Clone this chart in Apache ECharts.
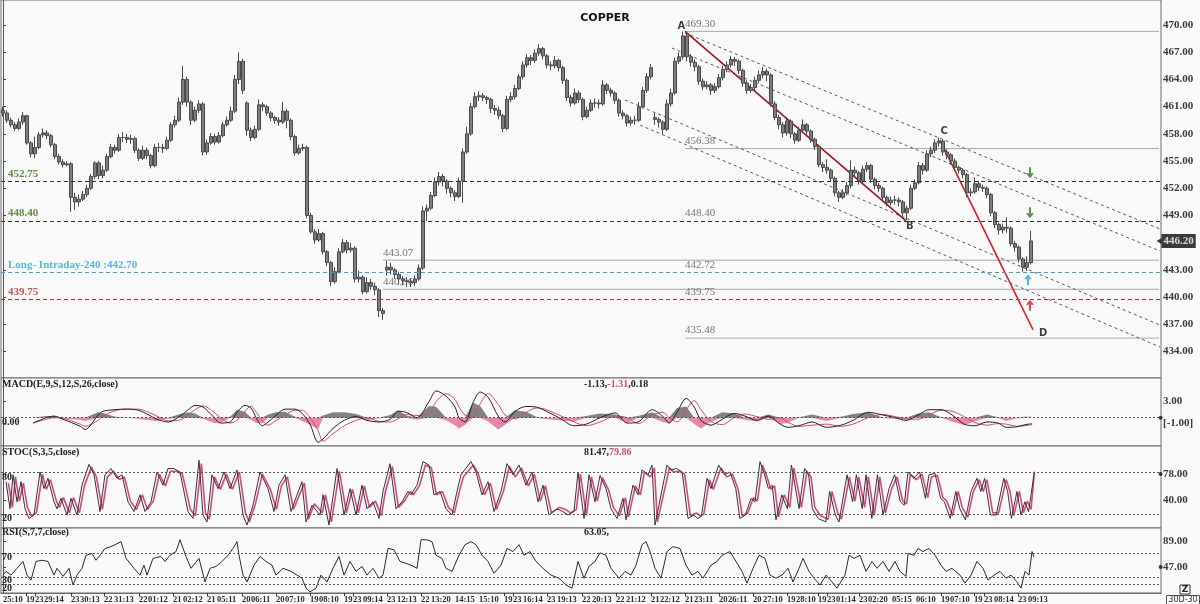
<!DOCTYPE html>
<html><head><meta charset="utf-8">
<script src="https://cdn.jsdelivr.net/npm/echarts@6/dist/echarts.min.js"></script>
<style>html,body{margin:0;padding:0;background:#fafafa;}#c{width:1200px;height:604px;}</style>
</head><body><div id="c"></div>
<script>
// ---------------- DATA ----------------
const N_CAT = 290; // 30-minute slots on the time axis (incl. empty future slots)

// price bars [open, close, low, high]
const ohlc = [
[460.6,460.3,459.9,461.0],[460.3,459.5,459.2,460.6],[459.5,459.0,458.7,459.8],[459.0,458.6,458.3,459.3],[458.6,459.3,458.4,459.7],
[459.3,460.0,459.0,460.4],[460.0,457.0,456.8,460.1],[457.0,455.8,455.4,457.2],[455.8,456.5,455.3,457.7],[456.5,457.9,456.3,458.2],
[457.9,458.1,457.6,458.6],[458.1,457.8,457.4,458.4],[457.8,456.8,456.5,458.0],[456.8,455.5,455.2,457.0],[455.5,454.9,454.6,455.8],
[454.9,454.6,454.3,455.2],[454.6,454.7,454.4,455.0],[454.7,451.0,449.4,454.9],[451.0,450.5,449.6,451.5],[450.5,450.8,450.0,451.3],
[450.8,451.3,450.6,451.7],[451.3,452.0,451.0,452.4],[452.0,453.3,451.8,453.6],[453.3,454.8,453.0,455.0],[454.8,453.4,453.0,455.0],
[453.4,454.0,453.1,454.5],[454.0,455.5,453.8,455.8],[455.5,456.5,455.3,456.9],[456.5,456.2,455.8,456.8],[456.2,457.6,456.0,458.0],
[457.6,457.6,457.1,458.2],[457.6,457.4,457.0,458.0],[457.4,457.5,456.9,457.9],[457.5,456.2,455.9,457.7],[456.2,455.3,455.0,456.4],
[455.3,456.2,455.1,456.7],[456.2,455.6,455.2,456.5],[455.6,454.5,454.2,455.8],[454.5,456.5,454.3,456.9],[456.5,456.5,456.0,457.0],
[456.5,456.4,455.9,456.9],[456.4,457.3,456.2,457.7],[457.3,459.0,457.1,459.3],[459.0,459.5,458.7,460.0],[459.5,461.5,459.3,462.0],
[461.5,464.0,461.2,465.5],[464.0,461.5,461.0,464.3],[461.5,459.5,459.0,461.7],[459.5,460.6,459.3,461.0],[460.6,461.3,460.3,461.7],
[461.3,456.0,455.6,461.5],[456.0,457.0,455.7,457.4],[457.0,457.7,456.8,458.1],[457.7,457.1,456.8,458.0],[457.1,457.8,456.9,458.2],
[457.8,459.0,457.6,459.3],[459.0,459.5,458.8,459.9],[459.5,460.5,459.3,461.0],[460.5,464.0,460.3,464.5],[464.0,466.0,463.5,467.0],
[466.0,462.8,462.4,466.3],[461.4,458.4,457.8,461.6],[458.4,457.6,457.2,458.7],[457.6,458.5,457.4,458.9],[458.5,461.2,458.3,461.8],
[461.2,461.0,460.5,461.5],[461.0,460.3,460.0,461.2],[460.3,459.8,459.4,460.5],[459.8,459.5,459.1,460.0],[459.5,459.3,458.9,459.8],
[459.3,460.5,459.1,461.5],[460.5,459.5,458.6,460.7],[459.5,457.7,457.3,459.7],[457.7,455.9,455.6,457.9],[455.9,456.4,455.7,456.8],
[456.4,456.5,456.1,456.9],[456.5,449.0,448.7,456.7],[449.0,447.2,447.0,449.3],[447.2,446.3,445.9,447.5],[446.3,447.0,446.1,447.5],
[447.0,445.0,444.7,447.2],[445.0,443.8,443.4,445.2],[443.8,441.7,441.2,444.0],[441.7,442.8,441.5,443.3],[442.8,445.0,442.6,445.4],
[445.0,446.0,444.8,446.4],[446.0,445.2,444.8,446.3],[445.2,445.4,444.9,446.0],[445.4,442.0,441.6,445.6],[442.0,442.2,441.6,442.9],
[442.2,440.6,440.3,442.4],[440.6,441.6,440.4,442.2],[441.6,441.2,440.8,442.0],[441.2,440.8,440.2,441.6],[440.8,438.5,437.8,441.0],
[438.5,438.2,437.5,438.8],[443.0,443.3,442.4,444.0],[443.3,443.0,442.5,443.8],[443.0,442.5,442.0,443.2],[442.5,442.0,441.4,442.8],
[442.0,441.8,441.3,442.3],[441.8,441.7,441.1,442.2],[441.7,441.6,441.1,442.1],[441.6,442.0,441.2,442.4],[442.0,443.2,441.8,443.6],
[443.2,449.5,443.0,450.0],[449.5,449.8,448.4,450.2],[449.8,451.2,449.6,451.6],[451.2,452.7,451.0,453.2],[452.7,453.3,452.3,453.8],
[453.3,452.8,452.2,453.6],[452.8,452.0,451.4,453.0],[452.0,451.5,451.0,452.2],[451.5,451.1,450.6,451.8],[451.1,452.8,450.9,453.2],
[452.8,456.0,450.4,456.4],[456.0,458.0,455.8,458.8],[458.0,461.0,457.8,461.4],[461.0,462.1,460.8,462.6],[462.1,462.2,461.6,462.7],
[462.2,462.0,461.6,462.5],[462.0,461.8,461.3,462.2],[461.8,460.8,460.3,462.0],[460.8,460.6,460.1,461.2],[460.6,460.0,459.6,461.0],
[460.0,458.6,458.2,460.2],[458.6,461.8,458.4,462.2],[461.8,462.1,461.5,462.6],[462.1,463.0,461.8,463.4],[463.0,464.3,462.8,464.6],
[464.3,465.6,464.0,466.0],[465.6,466.4,465.3,466.8],[466.4,466.1,465.6,466.7],[466.1,466.9,465.8,467.3],[466.9,467.4,466.6,467.9],
[467.4,466.6,466.2,467.6],[466.6,465.6,465.2,466.8],[465.6,465.5,465.0,466.0],[465.5,466.1,465.2,466.6],[466.1,465.3,464.9,466.3],
[465.3,463.9,463.5,465.5],[463.9,462.0,461.6,464.1],[462.0,461.4,461.0,462.3],[461.4,462.5,461.2,463.0],[462.5,461.8,461.4,462.8],
[461.8,459.9,459.5,462.0],[459.9,460.6,459.7,461.0],[460.6,461.4,460.4,461.8],[461.4,461.4,460.9,461.9],[461.4,461.3,460.8,461.8],
[461.3,463.4,461.1,463.9],[463.4,462.8,462.4,463.6],[462.8,462.5,462.1,463.1],[462.5,461.7,461.3,462.7],[461.7,460.3,459.9,461.9],
[460.3,460.0,459.6,460.6],[460.0,459.2,458.8,460.2],[459.2,459.5,458.9,459.9],[459.5,459.5,459.0,460.0],[459.5,461.0,459.3,461.5],
[461.0,462.8,460.8,463.2],[462.8,464.3,462.5,464.7],[464.3,465.3,464.0,465.7],[459.8,459.6,459.0,460.3],[459.6,459.3,458.7,459.8],
[459.3,458.5,457.9,459.5],[458.5,461.3,458.3,461.8],[461.3,462.5,461.0,463.0],[462.5,466.0,462.3,466.4],[466.0,466.5,465.7,467.0],
[466.5,468.8,466.2,469.3],[468.8,466.5,466.0,469.3],[466.5,465.9,465.4,466.8],[465.9,465.4,464.9,466.2],[465.4,463.8,463.4,465.6],
[463.8,463.2,462.8,464.1],[463.2,463.4,462.9,463.8],[463.4,462.8,462.3,463.6],[462.8,463.2,462.5,463.6],[463.2,464.2,463.0,464.6],
[464.2,465.1,463.9,465.5],[465.1,465.6,464.8,466.0],[465.6,466.2,465.3,466.6],[466.2,466.0,465.5,466.5],[466.0,465.0,464.6,466.2],
[465.0,463.6,463.2,465.2],[463.6,462.8,462.4,463.9],[462.8,463.1,462.5,463.5],[463.1,463.9,462.8,464.3],[463.9,464.5,463.6,465.0],
[464.5,464.9,464.1,465.4],[464.9,464.5,463.8,465.2],[464.5,461.3,461.0,464.7],[461.3,459.8,459.5,461.6],[459.8,459.0,458.5,460.1],
[459.0,458.1,457.6,459.3],[458.1,459.4,457.8,459.8],[459.4,458.0,457.5,459.6],[458.0,457.3,456.9,458.2],[457.3,458.4,457.1,458.8],
[458.4,459.0,458.2,459.6],[459.0,458.3,457.9,459.2],[458.3,457.4,457.0,458.5],[457.4,456.6,456.2,457.6],[456.6,454.6,454.3,456.8],
[454.6,454.3,453.8,454.9],[454.3,454.0,453.6,455.2],[454.0,453.1,452.7,454.2],[453.1,451.5,451.1,453.3],[451.5,451.0,450.5,451.7],
[451.0,451.5,450.8,451.9],[451.5,452.3,451.2,452.7],[452.3,454.0,452.0,455.1],[454.0,453.7,453.2,454.4],[453.7,452.8,452.4,453.9],
[452.8,454.1,452.6,454.5],[454.1,454.5,453.8,454.9],[454.5,453.0,452.6,454.7],[453.0,452.3,451.9,453.2],[452.3,452.0,451.6,452.6],
[452.0,451.0,450.6,452.2],[451.0,450.4,450.0,451.2],[450.4,450.7,450.1,451.1],[450.7,450.7,450.2,451.2],[450.7,450.5,450.0,451.0],
[450.5,449.3,448.9,450.7],[449.3,449.8,448.5,450.1],[449.8,452.0,449.6,452.4],[452.0,452.6,451.8,453.0],[452.6,454.5,452.4,454.9],
[454.5,454.0,453.5,454.8],[454.0,455.8,453.8,456.2],[455.8,456.2,455.4,456.6],[456.2,457.0,455.9,457.4],[457.0,457.2,456.6,457.6],
[457.2,456.0,455.6,457.4],[456.0,455.7,455.2,456.3],[455.7,455.0,454.6,455.9],[455.0,454.3,453.9,455.3],[454.3,454.0,453.6,454.5],
[454.0,453.5,453.1,454.2],[453.5,451.5,451.0,453.7],[451.5,451.6,451.1,452.0],[451.6,452.5,451.4,453.2],[452.5,452.1,451.7,452.8],
[452.1,452.0,451.6,452.4],[452.0,451.3,450.9,452.2],[451.3,449.3,448.9,451.5],[449.3,448.0,447.6,449.5],[448.0,447.4,446.9,448.2],
[447.4,447.7,447.0,448.1],[447.7,447.6,447.1,448.8],[447.6,445.9,445.6,447.8],[445.9,445.5,445.0,446.2],[445.5,444.2,443.8,445.7],
[444.2,443.3,442.8,444.4],[443.3,443.8,442.9,444.5],[443.8,446.2,443.6,447.3]
];
const lastPrice = 446.20;

// horizontal trade levels
const levelR1 = 452.75, levelR2 = 448.40, longIntraday = 442.70, stopLevel = 439.75;
// swing levels [start bar, price]
const swingLevels = [[170.5,469.30],[170.5,456.38],[170.5,435.48],[95,444.07],[95,440.86]];
// level captions [bar, price, text]
const levelCaptions = [[170.5,469.30,'469.30'],[170.5,456.38,'456.38'],[170.5,448.40,'448.40'],[170.5,442.72,'442.72'],
  [170.5,439.75,'439.75'],[170.5,435.48,'435.48'],[95,444.07,'443.07'],[95,440.86,'440.86']];
// channel lines [bar1, price1, bar2, price2]
const channelLines = [[170.5,469.12,289.25,447.51],[167.25,467.46,289.25,445.08],[155.5,461.73,289.25,436.92],[159.25,458.97,289.25,434.5]];
// wave legs
const waveAB = [[170.5,469.3],[225.75,448.4]];
const waveCD = [[234.25,457.3],[257.5,436.4]];
const waveLetters = [[168.6,469.89,'A'],[225.75,447.84,'B'],[234.4,458.31,'C'],[259,436.04,'D']];
// signal arrows [bar, price]
const arrowsDownGreen = [[256.75,453.7],[256.75,449.3]];
const arrowUpBlue = [[256.25,441.9]];
const arrowUpRed = [[256.75,439.1]];

// MACD [bar, macd, signal]
const macdRows = [
[7.5,-1.0,-1.0],[10.8,0.0,-0.3],[12.8,0.3,0.0],[15,-0.3,-0.1],[19.3,-1.6,-1.2],[20.5,-2.2,-1.6],[23.8,0.5,-0.5],[25,1.2,0.3],
[28,1.5,1.3],[30.8,1.6,1.6],[33.8,1.4,1.6],[36.5,0.5,1.0],[38.5,-0.3,0.3],[41.3,-0.8,-0.6],[44.3,0.3,-0.4],[46.3,1.5,0.5],
[48,2.3,1.5],[50,2.0,2.2],[52.8,0.0,1.0],[54.3,-1.0,0.0],[56.8,-0.8,-1.0],[58.5,1.0,-0.5],[60.5,2.3,1.2],[62,1.8,2.2],
[63.3,0.0,1.0],[64.8,-1.5,-0.5],[66.3,-0.8,-1.4],[68.3,0.5,-0.5],[70.5,1.6,0.5],[73,1.6,1.4],[74.8,0.8,1.4],[76.8,-1.3,0.0],
[78.8,-4.6,-2.5],[80,-4.0,-4.4],[82.5,-2.0,-3.0],[85.3,-0.5,-1.5],[88.3,0.2,-0.5],[91,-0.5,0.0],[94,-0.8,-0.7],[96.8,-0.3,-0.8],
[98.8,1.2,-0.2],[100.8,1.0,0.6],[103.5,0.0,0.4],[106.5,3.0,0.8],[108.3,5.0,3.0],[110.8,4.0,4.5],[113,2.0,3.4],[114,0.0,2.0],
[115.5,-0.8,0.5],[117.5,2.8,0.0],[119.3,4.8,2.6],[121.3,3.8,4.5],[123.8,0.3,2.5],[125.5,-0.8,0.5],[128,1.2,-0.2],[130.8,2.1,1.0],
[133.3,2.0,1.8],[135,1.5,1.7],[139,0.0,0.5],[142.8,-1.5,-0.8],[145.8,-1.2,-1.5],[149.3,0.0,-0.8],[153,0.9,0.3],[156,-1.0,0.0],
[158.8,-0.8,-1.1],[162.3,1.5,0.5],[165,0.2,1.0],[166.5,-1.0,0.0],[168.5,1.0,-0.8],[170.8,3.6,1.5],[172.8,2.0,3.2],[174.5,-0.5,1.5],
[177,-1.4,-0.7],[179.8,-0.3,-1.3],[182.8,0.8,0.0],[185.5,0.3,0.7],[188.5,-0.5,0.2],[191.3,0.3,-0.3],[194.3,-1.2,0.0],[196.3,-1.8,-0.9],
[199,-1.5,-1.6],[202.3,-0.8,-1.4],[205.8,-1.8,-1.2],[209.5,-1.4,-1.6],[212.5,-0.5,-1.2],[216.3,1.0,0.0],[220,0.5,0.6],[223,0.0,0.2],
[225.8,-0.5,-0.2],[228.8,0.5,-0.3],[231.5,1.5,0.5],[234.5,1.5,1.4],[237.3,0.5,1.2],[240.3,-1.2,0.2],[243,-1.5,-0.9],[246,-0.8,-1.4],
[248.8,-1.0,-1.1],[250.8,-1.8,-1.2],[253.5,-1.7,-1.6],[255.5,-1.3,-1.5],[257.3,-1.13,-1.31]
];
// MACD histogram [bar, value]
const macdHist = [
[7.5,0],[10.8,0.3],[12.8,0.3],[15,-0.2],[19.3,-0.4],[20.5,-0.6],[23.8,1.0],[25,0.9],[28,0.2],[30.8,0.05],[33.8,-0.2],[36.5,-0.5],
[38.5,-0.6],[41.3,-0.2],[44.3,0.7],[46.3,1.0],[48,0.8],[50,-0.2],[52.8,-1.0],[54.3,-1.0],[56.8,0.2],[58.5,1.5],[60.5,1.1],[62,-0.4],
[63.3,-1.0],[64.8,-1.0],[66.3,0.6],[68.3,1.0],[70.5,1.1],[73,0.2],[74.8,-0.6],[76.8,-1.3],[78.8,-2.1],[80,0.4],[82.5,1.0],[85.3,1.0],
[88.3,0.7],[91,-0.5],[94,-0.1],[96.8,0.5],[98.8,1.4],[100.8,0.4],[103.5,-0.4],[106.5,2.2],[108.3,2.0],[110.8,-0.5],[113,-1.4],[114,-2.0],
[115.5,-1.3],[117.5,2.8],[119.3,2.2],[121.3,-0.7],[123.8,-2.2],[125.5,-1.3],[128,1.4],[130.8,1.1],[133.3,0.2],[135,-0.2],[139,-0.5],
[142.8,-0.7],[145.8,0.3],[149.3,0.8],[153,0.6],[156,-1.0],[158.8,0.3],[162.3,1.0],[165,-0.8],[166.5,-1.0],[168.5,1.8],[170.8,2.1],
[172.8,-1.2],[174.5,-2.0],[177,-0.7],[179.8,1.0],[182.8,0.8],[185.5,-0.4],[188.5,-0.7],[191.3,0.6],[194.3,-1.2],[196.3,-0.9],[199,0.1],
[202.3,0.6],[205.8,-0.6],[209.5,0.2],[212.5,0.7],[216.3,1.0],[220,-0.1],[223,-0.2],[225.8,-0.3],[228.8,0.8],[231.5,1.0],[234.5,0.1],
[237.3,-0.7],[240.3,-1.4],[243,-0.6],[246,0.6],[248.8,0.1],[250.8,-0.6],[253.5,-0.1],[255.5,0.2],[257.3,0.18]
];
// Stochastic %K and %D [bar, value]
const stochK = [
[0.75,67],[1.75,28],[2.5,77],[3.5,38],[4.5,67],[5.5,28],[6.5,14],[7.75,19],[9.25,81],[10.25,57],[11.25,72],[12.75,38],[13.5,28],[14.5,43],
[16,19],[17,43],[18.5,19],[19.75,62],[21.5,92],[22.75,77],[24.25,24],[25.5,77],[27,86],[28.5,72],[29.75,77],[31.25,38],[32.75,24],[34.25,48],
[35.5,24],[37,38],[38.5,81],[40,62],[41.25,86],[42.75,86],[44.25,81],[46.25,24],[47.5,14],[49,98],[50,19],[51,9],[52.25,77],[53.75,57],
[55.25,81],[56.75,57],[58.5,84],[60,19],[61,4.5],[62.5,33],[64.25,81],[66.25,57],[67.75,24],[69,62],[70.5,77],[72,24],[73.5,48],[74.75,67],
[75.75,9],[77.25,33],[79.25,19],[80,48],[81.5,4.5],[83.5,86],[85.25,19],[86.75,57],[88.25,19],[89.75,62],[91,28],[92.5,38],[94,14],[95,53],
[96.75,93],[98.25,28],[99.75,38],[101.25,53],[102,48],[103.5,62],[105,96],[106.5,91],[107.75,48],[109.25,53],[110.75,28],[112.25,19],
[113.5,53],[114.5,77],[117,96],[118.25,81],[119.75,48],[121.25,67],[122.75,24],[124.5,53],[126,93],[127.5,77],[129,91],[130.75,62],
[132.25,81],[133.75,38],[135,62],[136.5,19],[138.5,28],[140,24],[141.25,19],[142.75,24],[143.75,81],[145.25,14],[146.5,77],[148,38],
[149.25,76],[150.75,57],[152,28],[153.5,14],[155,43],[155.75,12],[157.5,62],[158.75,48],[159.75,84],[161.25,77],[162.25,91],[163,4.5],
[166,91],[167,84],[168.4,86],[169.8,81],[171.25,14],[172.7,19],[173.65,14],[174.6,17],[176,72],[177,57],[178.9,91],[180.35,77],[181.75,81],
[183.2,57],[184.2,14],[185.6,19],[187,43],[188,38],[189.25,96],[190.4,77],[191.35,57],[192.3,62],[193.25,12],[194.7,48],[196.1,28],
[197.1,91],[198,62],[199,28],[200.4,86],[201.4,77],[202.35,28],[203.8,14],[205.7,9],[206.65,53],[208.1,19],[209,9],[211,77],[212.4,38],
[213.35,77],[214.8,28],[215.75,77],[217.2,14],[218.6,77],[220,19],[221.5,57],[222.9,77],[224.35,38],[225.3,33],[226.25,81],[227.7,72],
[229.15,81],[230.6,43],[231.5,77],[233,79],[234.4,43],[235.35,38],[236.8,14],[238.2,53],[239.2,28],[240.6,12],[242,53],[243.5,72],
[244.45,53],[245.4,72],[246.85,19],[248.3,19],[250.2,72],[251.15,53],[252.1,14],[253.5,53],[254.5,19],[255.45,38],[256.4,24],[257.85,81.47]
];
const stochD = [
[1.35,65],[2.35,30],[3.1,74],[4.1,39],[5.1,65],[6.1,30],[7.1,18],[8.35,22],[9.85,78],[10.85,56],[11.85,70],[13.35,39],[14.1,30],[15.1,44],
[16.6,22],[17.6,44],[19.1,22],[20.35,61],[22.1,88],[23.35,74],[24.85,27],[26.1,74],[27.6,82],[29.1,70],[30.35,74],[31.85,39],[33.35,27],
[34.85,48],[36.1,27],[37.6,39],[39.1,78],[40.6,61],[41.85,82],[43.35,82],[44.85,78],[46.85,27],[48.1,18],[49.6,93],[50.6,22],[51.6,13],
[52.85,74],[54.35,56],[55.85,78],[57.35,56],[59.1,81],[60.6,22],[61.6,9],[63.1,35],[64.85,78],[66.85,56],[68.35,27],[69.6,61],[71.1,74],
[72.6,27],[74.1,48],[75.35,65],[76.35,13],[77.85,35],[79.85,22],[80.6,48],[82.1,9],[84.1,82],[85.85,22],[87.35,56],[88.85,22],[90.35,61],
[91.6,30],[93.1,39],[94.6,18],[95.6,53],[97.35,89],[98.85,30],[100.35,39],[101.85,53],[102.6,48],[104.1,61],[105.6,91],[107.1,87],
[108.35,48],[109.85,53],[111.35,30],[112.85,22],[114.1,53],[115.1,74],[117.6,91],[118.85,78],[120.35,48],[121.85,65],[123.35,27],
[125.1,53],[126.6,89],[128.1,74],[129.6,87],[131.35,61],[132.85,78],[134.35,39],[135.6,61],[137.1,22],[139.1,30],[140.6,27],[141.85,22],
[143.35,27],[144.35,78],[145.85,18],[147.1,74],[148.6,39],[149.85,73],[151.35,56],[152.6,30],[154.1,18],[155.6,44],[156.35,16],[158.1,61],
[159.35,48],[160.35,81],[161.85,74],[162.85,87],[163.6,9],[166.6,87],[167.6,81],[169,82],[170.4,78],[171.85,18],[173.3,22],[174.25,18],
[175.2,20],[176.6,70],[177.6,56],[179.5,87],[180.95,74],[182.35,78],[183.8,56],[184.8,18],[186.2,22],[187.6,44],[188.6,39],[189.85,91],
[191,74],[191.95,56],[192.9,61],[193.85,16],[195.3,48],[196.7,30],[197.7,87],[198.6,61],[199.6,30],[201,82],[202,74],[202.95,30],
[204.4,18],[206.3,13],[207.25,53],[208.7,22],[209.6,13],[211.6,74],[213,39],[213.95,74],[215.4,30],[216.35,74],[217.8,18],[219.2,74],
[220.6,22],[222.1,56],[223.5,74],[224.95,39],[225.9,35],[226.85,78],[228.3,70],[229.75,78],[231.2,44],[232.1,74],[233.6,76],[235,44],
[235.95,39],[237.4,18],[238.8,53],[239.8,30],[241.2,16],[242.6,53],[244.1,70],[245.05,53],[246,70],[247.45,22],[248.9,22],[250.8,70],
[251.75,53],[252.7,18],[254.1,53],[255.1,22],[256.05,39],[257,27],[257.85,79.86]
];
// RSI [bar, value]
const rsiLine = [
[0,34],[0.75,40],[2,34],[3.5,45],[5,56],[6,34],[7,26],[8.25,56],[9.75,58],[11.25,56],[12.75,34],[13.5,45],[15,32],[16.5,45],[17.5,18],
[18.5,34],[19.75,45],[20.75,66],[22.25,69],[23.25,58],[24.25,66],[25.5,77],[27,80],[28,83],[29.5,88],[30.75,61],[32.75,45],[34.25,34],
[35.25,50],[36,34],[37.5,61],[39.5,64],[40.5,56],[41.75,66],[43.25,72],[44.25,91],[45.75,64],[47,45],[49,61],[50.5,23],[51.75,45],
[53.25,48],[54.75,56],[56.25,66],[57.5,77],[58.5,88],[59,66],[60,34],[61,23],[62.75,50],[64.25,64],[65.75,56],[67.25,50],[68.25,34],
[70,45],[72,40],[73.5,34],[74.75,29],[75.75,13],[76.75,7],[78.25,13],[79.5,34],[81,23],[82.5,45],[84,64],[85.25,34],[86.75,56],[88.25,40],
[89.75,48],[91,34],[92.5,45],[94,29],[95,34],[96.25,77],[97.75,75],[99.25,56],[100.75,53],[102,50],[103.5,45],[104.5,91],[106,91],
[107.25,88],[108.25,66],[109.75,61],[110.75,45],[112.25,40],[114,66],[115.5,83],[117,88],[118.25,83],[119.75,66],[121.25,56],[122.75,37],
[124.5,50],[126,77],[127.5,72],[129,83],[130.25,66],[131.75,72],[133.25,56],[135,45],[137,34],[139,29],[140.75,18],[142.25,13],[143.75,56],
[145.25,29],[146.5,48],[148,56],[149.25,70],[150.75,66],[152,45],[154,29],[155.5,40],[157,34],[158.25,50],[159.75,83],[160.75,88],
[161.75,72],[163,45],[164.5,29],[166,72],[167.5,80],[169.25,77],[170.75,50],[172.25,34],[173.75,40],[175,29],[177,50],[178.5,56],
[179.75,66],[181.75,72],[183.25,56],[184.75,40],[186,21],[187.5,45],[189,66],[190.5,61],[191.75,34],[193.25,29],[194.75,34],[196.25,45],
[197.5,23],[199,45],[200,61],[201.5,40],[202.75,29],[204.25,18],[205.75,34],[207.25,23],[208.5,13],[210.5,34],[211.5,66],[212.75,61],
[214.25,66],[215.75,40],[217.25,56],[218.5,45],[220,56],[221.5,40],[223,56],[224.25,40],[225.75,32],[226.25,69],[227.75,66],[228.75,77],
[230,72],[231.5,77],[233,66],[234.5,50],[235.75,40],[237.25,45],[239.25,34],[240.5,21],[242,34],[243.5,56],[245,45],[246.25,26],
[247.75,34],[249.25,40],[250.75,29],[252,34],[253.5,23],[254.5,13],[255.5,40],[256.5,34],[257.25,72],[257.75,63.05]
];
// time-axis labels [slot, text]
const timeLabels = [[0,'25:10'],[5.75,'19'],[8,'23'],[10.25,'29:14'],[17,'23'],[19.25,'30:13'],[25.25,'22'],[27.75,'31:13'],
[34,'22'],[36.25,'01:12'],[42.5,'21'],[45,'02:12'],[51,'21'],[53.5,'05:11'],[59.75,'20'],[62,'06:11'],[68.25,'20'],[70.5,'07:10'],
[76.75,'19'],[79,'08:10'],[85.25,'19'],[87.5,'23'],[90,'09:14'],[96,'23'],[98.5,'12:13'],[104.5,'22'],[107,'13:20'],[113,'14:15'],
[119,'15:10'],[125.25,'19'],[127.5,'23'],[130,'16:14'],[136,'23'],[138.5,'19:13'],[144.75,'22'],[147.25,'20:13'],[153.25,'22'],
[155.75,'21:12'],[162,'21'],[164.25,'22:12'],[170.5,'21'],[172.75,'23:11'],[179,'20'],[181.25,'26:11'],[187.5,'20'],[190,'27:10'],
[196,'19'],[198.25,'28:10'],[203.75,'19'],[206,'23'],[208.25,'01:14'],[214,'23'],[216.25,'02:20'],[222.25,'05:15'],[228.25,'06:10'],
[234.5,'19'],[236.75,'07:10'],[242.75,'19'],[245.25,'23'],[247.75,'08:14'],[253.75,'23'],[256.25,'09:13']];
const priceTicks = [434,437,440,443,449,452,455,458,461,464,467,470];
const macdTicks = [-1,3], stochTicks = [40,78], rsiTicks = [47,89];
const stochBands = [80,20], rsiBands = [70,30,20];
const macdValues = ['-1.13','-1.31','0.18'], stochValues = ['81.47','79.86'], rsiValues = ['63.05'];

// ---------------- CHART ----------------
const SERIF = "'Liberation Serif','DejaVu Serif',serif";
const chart = echarts.init(document.getElementById('c'), null, {renderer:'canvas'});
const cats = Array.from({length:N_CAT}, (_, i) => String(i));
const labelSlots = timeLabels.map(l => l[0]);
const tickSlots = timeLabels.filter(l => l[1].length === 2).map(l => l[0]);
const labelFor = v => { const f = timeLabels.find(l => Math.abs(l[0] - v) < 0.01); return f ? f[1] : ''; };
const PINK = '#d9467c', GREEN = '#3b6e1c', BLUE = '#27a6dc', RED = '#c8282e';

const GRIDS = [
  {left:1, top:0, width:1160, height:378},
  {left:1, top:378, width:1160, height:68},
  {left:1, top:446, width:1160, height:82},
  {left:1, top:528, width:1160, height:65}
].map(g => Object.assign(g, {show:true, backgroundColor:'#f9f9f9', borderColor:'#6a6a6a', borderWidth:1}));

const hiddenValX = gi => ({gridIndex:gi, type:'value', min:-0.5, max:N_CAT-0.5, show:false});
const yAx = (gi, min, max, ticks, fmt) => ({
  gridIndex:gi, type:'value', position:'right', min, max, scale:true,
  splitLine:{show:false},
  axisLine:{show:true, lineStyle:{color:'#555'}},
  axisTick:{show:true, length:3, customValues:ticks, lineStyle:{color:'#444'}},
  axisLabel:{show:true, customValues:ticks, margin:2, formatter:fmt || (v => v.toFixed(2)),
    fontFamily:SERIF, fontSize:11, fontWeight:'bold', color:'#3a3a3a'}
});

const seg = (pts, color, width, type, xi, yi) => ({
  type:'line', xAxisIndex:xi, yAxisIndex:yi, data:pts, symbol:'none', silent:true, z:3,
  lineStyle:{color, width, type}, animation:false
});

const series = [];
// price bars
series.push({
  type:'candlestick', xAxisIndex:0, yAxisIndex:0, data:ohlc, barWidth:3, z:4,
  itemStyle:{color:'#7c7c7c', color0:'#7c7c7c', borderColor:'#4a4a4a', borderColor0:'#4a4a4a', borderWidth:1},
  markLine:{
    silent:true, symbol:['none','none'], animation:false,
    data:[
      {yAxis:levelR1, lineStyle:{color:'#333', type:[4,3], width:1}, label:{show:false}},
      {yAxis:levelR2, lineStyle:{color:'#333', type:[4,3], width:1}, label:{show:false}},
      {yAxis:longIntraday, lineStyle:{color:BLUE, type:[4,3], width:1}, label:{show:false}},
      {yAxis:stopLevel, lineStyle:{color:RED, type:[4,3], width:1}, label:{show:false}}
    ]
  }
});
// last price badge on the price axis
series.push({type:'scatter', xAxisIndex:1, yAxisIndex:0, data:[[N_CAT-0.5, lastPrice]], clip:false, silent:true, z:8,
  symbol:'path://M0,4 L6,0 L6,8 Z', symbolSize:[5,6], symbolOffset:[-2,0], itemStyle:{color:'#0a0a0a'},
  label:{show:true, position:'right', distance:0, formatter:lastPrice.toFixed(2), backgroundColor:'#0a0a0a', color:'#fff',
    padding:[2,2,1,2], fontFamily:SERIF, fontSize:11, fontWeight:'bold'}});
// swing level lines
swingLevels.forEach(l => series.push(seg([[l[0], l[1]], [N_CAT-1, l[1]]], '#a9a9a9', 1, 'solid', 1, 0)));
// channel lines
channelLines.forEach(c => series.push(seg([[c[0], c[1]], [c[2], c[3]]], '#5a5a5a', 1, [3,3], 1, 0)));
// wave legs
series.push(seg(waveAB, '#a51515', 1.6, 'solid', 1, 0));
series.push(seg(waveCD, '#e01818', 1.6, 'solid', 1, 0));
// captions
const textScatter = (items, color, offset, extra) => ({
  type:'scatter', xAxisIndex:1, yAxisIndex:0, symbolSize:0, silent:true, z:6,
  data:items.map(it => ({value:[it[0], it[1]], label:{formatter:it[2]}})),
  label:Object.assign({show:true, position:[0,0], align:'left', verticalAlign:'middle', offset,
    fontFamily:SERIF, fontSize:11, color}, extra || {})
});
series.push(textScatter(levelCaptions, '#555', [0,-7.5]));
series.push(textScatter([[1.25, levelR1, levelR1.toFixed(2)], [1.25, levelR2, levelR2.toFixed(2)]], GREEN, [0,-7.5], {fontWeight:'bold'}));
series.push(textScatter([[1.25, longIntraday, 'Long- Intraday-240 :' + longIntraday.toFixed(2)]], BLUE, [0,-7.5], {fontWeight:'bold'}));
series.push(textScatter([[1.25, stopLevel, stopLevel.toFixed(2)]], RED, [0,-7.5], {fontWeight:'bold'}));
series.push(textScatter(waveLetters, '#111', [0,0], {fontWeight:'bold', fontFamily:"'DejaVu Sans',sans-serif", fontSize:10}));
// arrows
const DOWN = 'path://M3,0 L5,0 L5,6 L8,6 L4,11 L0,6 L3,6 Z';
const UP = 'path://M4,0 L8,5 L5,5 L5,11 L3,11 L3,5 L0,5 Z';
const arrow = (pts, sym, color) => ({type:'scatter', xAxisIndex:1, yAxisIndex:0, data:pts, symbol:sym, symbolSize:[8,11],
  itemStyle:{color}, silent:true, z:6});
series.push(arrow(arrowsDownGreen, DOWN, '#2e7d1e'));
series.push(arrow(arrowUpBlue, UP, '#2aa7e6'));
series.push(arrow(arrowUpRed, UP, '#e01c1c'));

// MACD histogram: shaded humps, gray above and pink below the zero line
const histArea = (keep, color) => ({type:'line', xAxisIndex:2, yAxisIndex:1, symbol:'none', silent:true, z:2,
  data:macdHist.map(h => [h[0], keep(h[1]) ? h[1] : 0]),
  lineStyle:{width:0}, areaStyle:{color, opacity:0.9, origin:0}});
series.push(histArea(v => v >= 0, '#747474'));
series.push(histArea(v => v < 0, '#e8779f'));
series.push({type:'line', xAxisIndex:2, yAxisIndex:1, data:macdRows.map(r => [r[0], r[2]]), symbol:'none', smooth:0.3,
  lineStyle:{color:PINK, width:1}, silent:true, z:3,
  markLine:{silent:true, symbol:['none','none'], data:[{yAxis:0}], label:{show:false}, lineStyle:{color:'#555', type:[2,2], width:1}}});
series.push({type:'line', xAxisIndex:2, yAxisIndex:1, data:macdRows.map(r => [r[0], r[1]]), symbol:'none', smooth:0.3,
  lineStyle:{color:'#222', width:1}, silent:true, z:4});
// Stochastic
series.push({type:'line', xAxisIndex:3, yAxisIndex:2, data:stochD, symbol:'none', lineStyle:{color:PINK, width:1.6}, silent:true,
  markLine:{silent:true, symbol:['none','none'], data:stochBands.map(v => ({yAxis:v})), label:{show:false}, lineStyle:{color:'#555', type:[2,2], width:1}}});
series.push({type:'line', xAxisIndex:3, yAxisIndex:2, data:stochK, symbol:'none', lineStyle:{color:'#333', width:1}, silent:true});
// RSI
series.push({type:'line', xAxisIndex:4, yAxisIndex:3, data:rsiLine, symbol:'none', lineStyle:{color:'#2a2a2a', width:1}, silent:true,
  markLine:{silent:true, symbol:['none','none'], data:rsiBands.map(v => ({yAxis:v})), label:{show:false}, lineStyle:{color:'#555', type:[2,2], width:1}}});
// axis markers
const dot = (xi, yi, v) => ({type:'scatter', xAxisIndex:xi, yAxisIndex:yi, data:[[N_CAT-0.6, v]], symbolSize:4, clip:false,
  itemStyle:{color:'#111'}, silent:true, z:7});
series.push(dot(2,1,0), dot(3,2,78), dot(4,3,47));

const txt = (x, y, text, color, size, weight, family, align) => ({type:'text', x, y, silent:true, z:100,
  style:{text, fill:color || '#222', font:(weight || 'bold') + ' ' + (size || 10) + 'px ' + (family || SERIF),
    align:align || 'left', verticalAlign:'middle'}});

const option = {
  animation:false,
  backgroundColor:'#fafafa',
  grid:GRIDS,
  xAxis:[
    {gridIndex:0, type:'category', data:cats, boundaryGap:true, show:false},
    hiddenValX(0), hiddenValX(1), hiddenValX(2),
    {gridIndex:3, type:'value', min:-0.5, max:N_CAT-0.5, position:'bottom',
      axisLine:{show:true, lineStyle:{color:'#6a6a6a'}},
      axisTick:{show:true, customValues:tickSlots, length:3, lineStyle:{color:'#333'}},
      axisLabel:{show:true, customValues:labelSlots, formatter:v => labelFor(v), align:'left',
        margin:2, fontFamily:SERIF, fontSize:8.5, fontWeight:'bold', color:'#2a2a2a', hideOverlap:false,
        showMinLabel:true, showMaxLabel:true},
      splitLine:{show:false}}
  ],
  yAxis:[
    yAx(0, 431.08, 472.76, priceTicks),
    yAx(1, -5.29, 7.42, macdTicks, v => v === -1 ? '[-1.00]' : v.toFixed(2)),
    yAx(2, 0.24, 118.5, stochTicks),
    yAx(3, 5.16, 110, rsiTicks)
  ],
  series,
  graphic:[
    txt(605, 18, 'COPPER', '#111', 11, 'bold', "'DejaVu Sans',sans-serif", 'center'),
    txt(2, 384, 'MACD(E,9,S,12,S,26,close)'),
    txt(2, 452, 'STOC(S,3,5,close)'),
    txt(2, 532, 'RSI(S,7,7,close)'),
    txt(2, 422, '0.00'),
    txt(2, 477, '80'), txt(2, 518, '20'),
    txt(2, 557, '70'), txt(2, 580, '30'), txt(2, 588, '20'),
    {type:'text', x:584, y:384, silent:true, z:100, style:{text:'{a|' + macdValues[0] + ',}{b|' + macdValues[1] + '}{a|,' + macdValues[2] + '}',
      verticalAlign:'middle', rich:{a:{fill:'#222', font:'bold 10px ' + SERIF}, b:{fill:PINK, font:'bold 10px ' + SERIF}}}},
    {type:'text', x:584, y:452, silent:true, z:100, style:{text:'{a|' + stochValues[0] + ',}{b|' + stochValues[1] + '}',
      verticalAlign:'middle', rich:{a:{fill:'#222', font:'bold 10px ' + SERIF}, b:{fill:PINK, font:'bold 10px ' + SERIF}}}},
    txt(584, 532, rsiValues[0] + ','),
    {type:'rect', shape:{x:1180, y:585, width:10, height:9}, style:{fill:'none', stroke:'#333', lineWidth:1}, silent:true},
    txt(1185, 590, 'Z', '#222', 9, 'bold', "'DejaVu Sans',sans-serif", 'center'),
    {type:'rect', shape:{x:1166.5, y:595.5, width:33, height:9}, style:{fill:'none', stroke:'#555', lineWidth:1}, silent:true},
    txt(1183, 600, '30D-30', '#333', 8, 'normal', "'DejaVu Sans',sans-serif", 'center')
  ]
};
chart.setOption(option);
</script>
</body></html>
